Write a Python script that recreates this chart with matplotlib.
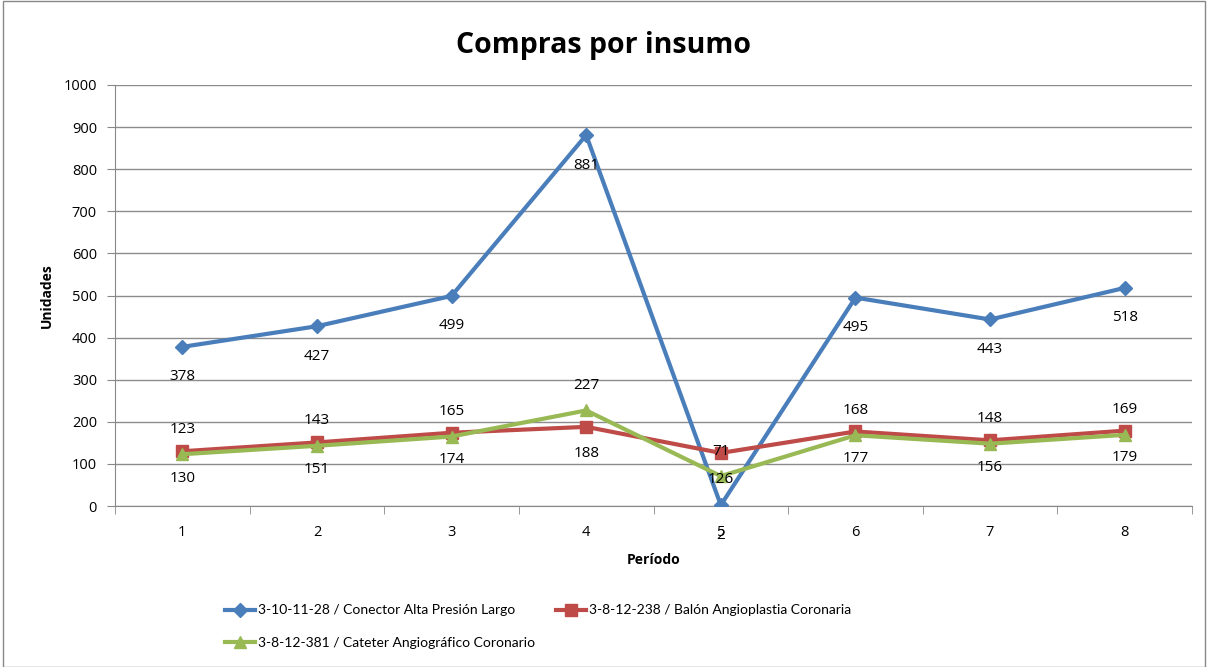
import matplotlib
matplotlib.use("Agg")
import matplotlib.pyplot as plt
from matplotlib.patches import Rectangle

periods = [1, 2, 3, 4, 5, 6, 7, 8]
conector = [378, 427, 499, 881, 2, 495, 443, 518]
balon = [130, 151, 174, 188, 126, 177, 156, 179]
cateter = [123, 143, 165, 227, 71, 168, 148, 169]
yticks = [0, 100, 200, 300, 400, 500, 600, 700, 800, 900, 1000]

name_conector = "3-10-11-28 / Conector Alta Presión Largo"
name_balon = "3-8-12-238 / Balón Angioplastia Coronaria"
name_cateter = "3-8-12-381 / Cateter Angiográfico Coronario"

plt.rcParams['font.family'] = ['Open Sans', 'DejaVu Sans']

W, H = 1208, 667
fig = plt.figure(figsize=(W / 100, H / 100), dpi=100)
ax = fig.add_axes([115 / W, 1 - 506 / H, (1192 - 115) / W, (506 - 85) / H])

c_blue = "#4A7EBB"
c_red = "#BE4B48"
c_green = "#98B954"

l1, = ax.plot(periods, conector, color=c_blue, lw=3, marker="D", ms=7, label=name_conector, zorder=3)
l2, = ax.plot(periods, balon, color=c_red, lw=3, marker="s", ms=9, label=name_balon, zorder=3)
l3, = ax.plot(periods, cateter, color=c_green, lw=3, marker="^", ms=9, label=name_cateter, zorder=4)

for x, v in zip(periods, conector):
    ax.annotate(str(v), (x, v), xytext=(0, -30), textcoords="offset pixels",
                ha="center", va="center", fontsize=11, color="black", zorder=5)
for x, v in zip(periods, balon):
    ax.annotate(str(v), (x, v), xytext=(0, -27), textcoords="offset pixels",
                ha="center", va="center", fontsize=11, color="black", zorder=5)
for x, v in zip(periods, cateter):
    ax.annotate(str(v), (x, v), xytext=(0, 25), textcoords="offset pixels",
                ha="center", va="center", fontsize=11, color="black", zorder=5)

ax.set_xlim(0.5, 8.5)
ax.set_ylim(0, 1000)
ax.set_yticks(yticks)
ax.set_xticks(periods)
ax.set_xticks([p + 0.5 for p in [0] + periods], minor=True)
ax.tick_params(axis="x", which="major", length=0, pad=14, labelsize=10.5)
ax.tick_params(axis="x", which="minor", length=6, color="#888888", direction="out")
ax.tick_params(axis="y", length=6, color="#888888", direction="out", labelsize=10.5, pad=7)
ax.grid(axis="y", color="#8c8c8c", lw=1)
ax.set_axisbelow(True)
for s in ["top", "right"]:
    ax.spines[s].set_visible(False)
for s in ["left", "bottom"]:
    ax.spines[s].set_color("#888888")

fig.text(0.5, 1 - 45 / H, "Compras por insumo", fontsize=20.5, fontweight="bold",
         ha="center", va="center")
ax.set_xlabel("Período", fontsize=10, fontweight="bold", labelpad=9)
ax.set_ylabel("Unidades", fontsize=10, fontweight="bold", labelpad=7)

fig.legend([l1, l3, l2], [name_conector, name_cateter, name_balon], ncol=2,
           loc="upper left", bbox_to_anchor=(212 / W, 1 - 592 / H), frameon=False,
           prop={'family': ['Lato', 'Open Sans'], 'size': 10}, handlelength=2.2,
           handletextpad=0.2, columnspacing=1.5, labelspacing=1.5, markerscale=1.0)

fig.patches.append(Rectangle((3 / W, 0), (1205 - 3) / W, 1 - 1 / H, transform=fig.transFigure,
                             fill=False, edgecolor="#888888", lw=1))

fig.savefig("out.png", dpi=100)
